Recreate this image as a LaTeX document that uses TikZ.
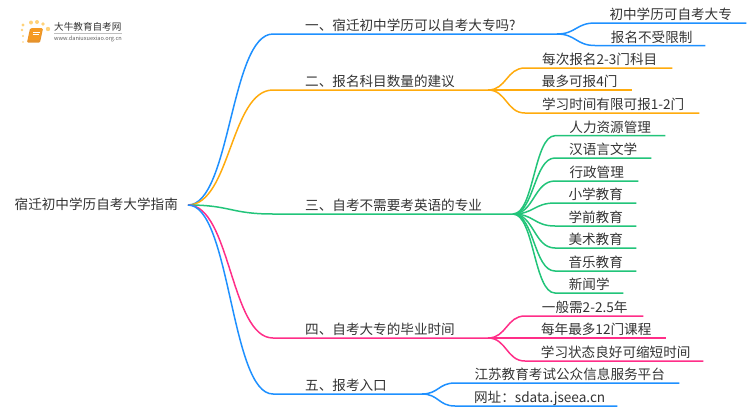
\documentclass[tikz,border=0pt]{standalone}
\usepackage{fontspec}
\setmainfont{Noto Sans CJK SC}
\usetikzlibrary{calc}
\definecolor{ink}{HTML}{333333}
\definecolor{skyline}{HTML}{1E90FF}
\definecolor{amberline}{HTML}{FFAB0D}
\definecolor{leafline}{HTML}{22C47A}
\definecolor{roseline}{HTML}{FF2E88}
\definecolor{bookorange}{HTML}{F59A23}
\definecolor{dotyellow}{HTML}{FFD27A}
\tikzset{
	label/.style={inner ysep=0pt, text=ink, font=\fontsize{13.6pt}{14pt}\selectfont, text height=11.5pt, text depth=3pt},
	limbnode/.style={label, anchor=south west, inner xsep=32pt},
	kidnode/.style={label, anchor=south west, inner xsep=0pt},
	limbline/.style={line width=1.5pt},
}
\def\limb[#1](#2)(#3)(#4){\path ($(#2)!0.5!(#3)$) coordinate (mid); \draw[limbline,#1] (#2) .. controls (mid |- #2) and (mid |- #3) .. (#3) -- (#4);}
\begin{document}
\begin{tikzpicture}[x=1pt,y=-1pt]
	\useasboundingbox (0,0) rectangle (750,410);
	
	% logo
	\foreach \px/\py/\pr in {23/25/1.6, 31/22.5/2, 37/22/2, 43/24/1.8, 48/29/2.2, 22/30/1.3, 23/36/1.1, 23/42/0.9}
		\fill[dotyellow] (\px,\py) circle (\pr);
	\fill[bookorange!70!brown, rounded corners=1pt] (30,28.5) -- (43,28.5) -- (40,42.5) -- (27,42.5) -- cycle;
	\fill[bookorange, rounded corners=1pt] (31,28) -- (42.5,28) -- (39.5,40) -- (28,40) -- cycle;
	\draw[white, line width=0.6pt] (33,32) -- (39.5,32) (32.5,34.5) -- (39,34.5);
	\node[anchor=west, inner sep=0pt, text=ink, font=\fontsize{9.6pt}{10pt}\selectfont] (logoname) at (54,27) {大牛教育自考网};
	\node[anchor=west, inner sep=0pt, text=ink!80, font=\fontsize{5.6pt}{6pt}\selectfont] (logourl) at (54,38.5) {www.daniuxuexiao.org.cn};
	\draw[black!25, line width=0.4pt] (54,33.3) -- (122,33.3);
	
	% root
	\node[label, anchor=west, inner sep=0pt] (root) at (14.5,205) {宿迁初中学历自考大学指南};
	\coordinate (hub) at (188,205);
	
	% limbs
	\node[limbnode] (one) at (273,34) {一、宿迁初中学历可以自考大专吗?};
	\node[limbnode] (two) at (273,90) {二、报名科目数量的建议};
	\node[limbnode] (three) at (273,214) {三、自考不需要考英语的专业};
	\node[limbnode] (four) at (273,338) {四、自考大专的毕业时间};
	\node[limbnode] (five) at (273,394) {五、报考入口};
	\coordinate (forkone) at (557,34);
	\coordinate (forktwo) at (488,90);
	\coordinate (forkthree) at (513,214);
	\coordinate (forkfour) at (488,338);
	\coordinate (forkfive) at (422,394);
	\limb[skyline](hub)(one.south west)(forkone);
	\limb[amberline](hub)(two.south west)(forktwo);
	\limb[leafline](hub)(three.south west)(forkthree);
	\limb[roseline](hub)(four.south west)(forkfour);
	\limb[skyline](hub)(five.south west)(forkfive);
	
	% first group
	\node[kidnode, minimum width=151pt] (oneA) at (595,23) {初中学历可自考大专};
	\node[kidnode, minimum width=110pt] (oneB) at (595,45.5) {\hspace*{3pt}报名不受限制};
	\limb[skyline](forkone)(oneA.south west)(oneA.south east);
	\limb[skyline](forkone)(oneB.south west)(oneB.south east);
	
	% second group
	\node[kidnode, minimum width=147pt] (twoA) at (525,68) {\hspace*{2pt}每次报名2-3门科目};
	\node[kidnode, minimum width=107pt] (twoB) at (525,90) {\hspace*{2pt}最多可报4门};
	\node[kidnode, minimum width=174pt] (twoC) at (525,113) {\hspace*{2pt}学习时间有限可报1-2门};
	\limb[amberline](forktwo)(twoA.south west)(twoA.south east);
	\limb[amberline](forktwo)(twoB.south west)(twoB.south east);
	\limb[amberline](forktwo)(twoC.south west)(twoC.south east);
	
	% third group
	\node[kidnode, minimum width=110pt] (threeA) at (555,135.7) {人力资源管理};
	\node[kidnode, minimum width=96pt] (threeB) at (555,158) {汉语言文学};
	\node[kidnode, minimum width=83pt] (threeC) at (555,181) {行政管理};
	\node[kidnode, minimum width=81pt] (threeD) at (555,203) {小学教育};
	\node[kidnode, minimum width=81pt] (threeE) at (555,226) {学前教育};
	\node[kidnode, minimum width=81pt] (threeF) at (555,248) {美术教育};
	\node[kidnode, minimum width=81pt] (threeG) at (555,271) {音乐教育};
	\node[kidnode, minimum width=68pt] (threeH) at (555,293) {新闻学};
	\limb[leafline](forkthree)(threeA.south west)(threeA.south east);
	\limb[leafline](forkthree)(threeB.south west)(threeB.south east);
	\limb[leafline](forkthree)(threeC.south west)(threeC.south east);
	\limb[leafline](forkthree)(threeD.south west)(threeD.south east);
	\limb[leafline](forkthree)(threeE.south west)(threeE.south east);
	\limb[leafline](forkthree)(threeF.south west)(threeF.south east);
	\limb[leafline](forkthree)(threeG.south west)(threeG.south east);
	\limb[leafline](forkthree)(threeH.south west)(threeH.south east);
	
	% fourth group
	\node[kidnode, minimum width=118pt] (fourA) at (525,316) {\hspace*{1pt}一般需2-2.5年};
	\node[kidnode, minimum width=141pt] (fourB) at (525,338) {\hspace*{1pt}每年最多12门课程};
	\node[kidnode, minimum width=178pt] (fourC) at (525,361) {\hspace*{3pt}学习状态良好可缩短时间};
	\limb[roseline](forkfour)(fourA.south west)(fourA.south east);
	\limb[roseline](forkfour)(fourB.south west)(fourB.south east);
	\limb[roseline](forkfour)(fourC.south west)(fourC.south east);
	
	% fifth group
	\node[kidnode, minimum width=224pt] (fiveA) at (455,383) {\hspace*{5pt}江苏教育考试公众信息服务平台};
	\node[kidnode, minimum width=162pt] (fiveB) at (455,406) {\hspace*{7pt}网址：sdata.jseea.cn};
	\limb[skyline](forkfive)(fiveA.south west)(fiveA.south east);
	\limb[skyline](forkfive)(fiveB.south west)(fiveB.south east);
\end{tikzpicture}
\end{document}
